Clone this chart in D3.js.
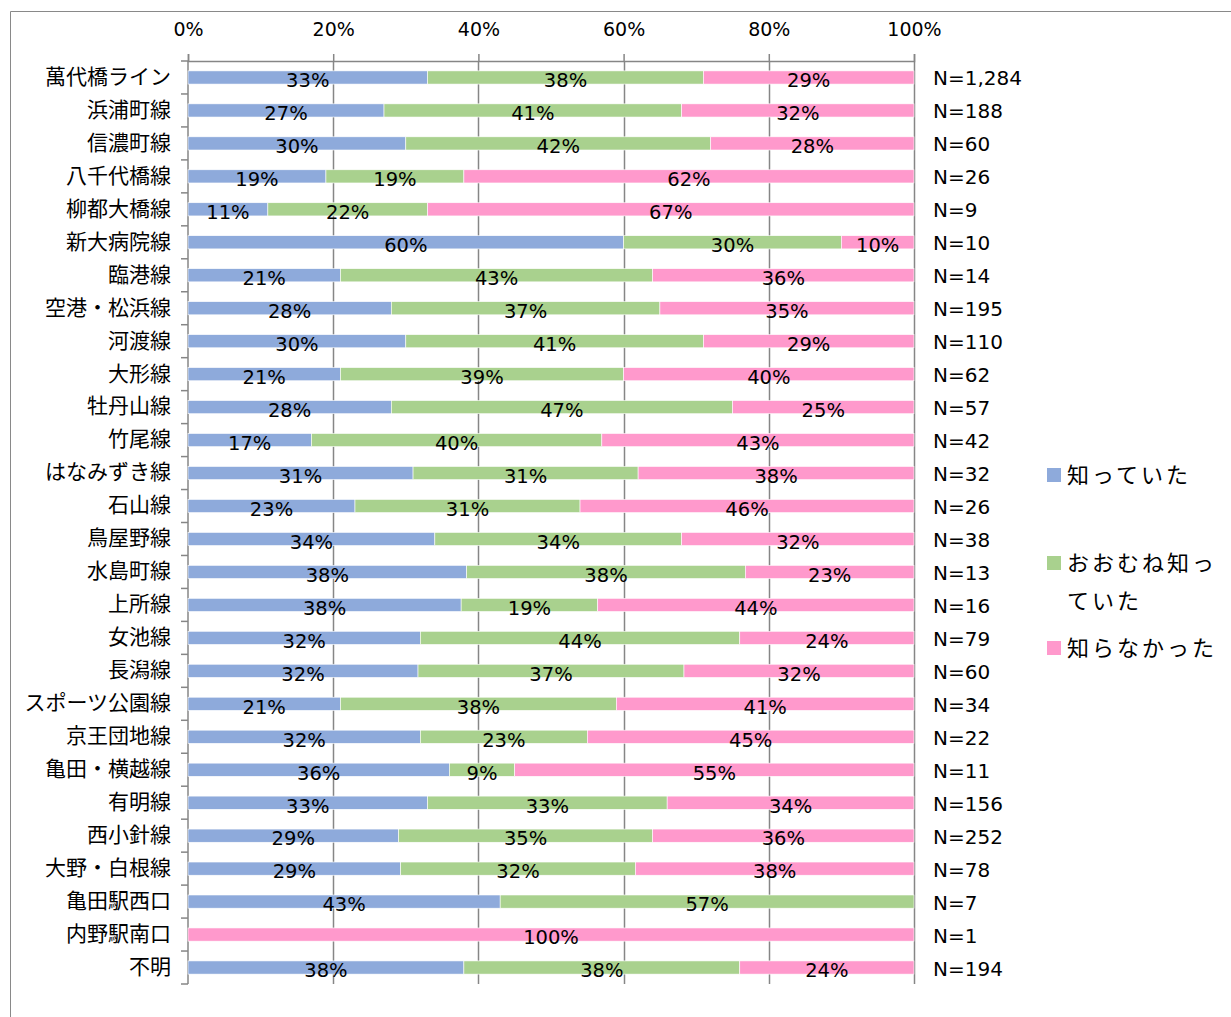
<!DOCTYPE html>
<html>
<head>
<meta charset="utf-8">
<script src="https://cdn.jsdelivr.net/npm/d3@7"></script>
<style>
  body { margin: 0; background: #fff; }
  svg { display: block; font-family: "Noto Sans CJK JP", "Noto Sans", sans-serif; }
  .num { font-family: "DejaVu Sans", "Noto Sans CJK JP", sans-serif; }
</style>
</head>
<body>
<svg id="chart" width="1231" height="1017"></svg>
<script>
// categories (routes), top to bottom
const routes = ['萬代橋ライン', '浜浦町線', '信濃町線', '八千代橋線', '柳都大橋線', '新大病院線', '臨港線',
  '空港・松浜線', '河渡線', '大形線', '牡丹山線', '竹尾線', 'はなみずき線', '石山線', '鳥屋野線', '水島町線',
  '上所線', '女池線', '長潟線', 'スポーツ公園線', '京王団地線', '亀田・横越線', '有明線', '西小針線',
  '大野・白根線', '亀田駅西口', '内野駅南口', '不明'];
const sampleN = ['N=1,284', 'N=188', 'N=60', 'N=26', 'N=9', 'N=10', 'N=14', 'N=195', 'N=110', 'N=62', 'N=57',
  'N=42', 'N=32', 'N=26', 'N=38', 'N=13', 'N=16', 'N=79', 'N=60', 'N=34', 'N=22', 'N=11', 'N=156', 'N=252',
  'N=78', 'N=7', 'N=1', 'N=194'];

// series values (%)
const knew = [33, 27, 30, 19, 11, 60, 21, 28, 30, 21, 28, 17, 31, 23, 34, 38, 38, 32, 32, 21, 32, 36, 33, 29, 29, 43, 0, 38];
const mostlyKnew = [38, 41, 42, 19, 22, 30, 43, 37, 41, 39, 47, 40, 31, 31, 34, 38, 19, 44, 37, 38, 23, 9, 33, 35, 32, 57, 0, 38];
const didntKnow = [29, 32, 28, 62, 67, 10, 36, 35, 29, 40, 25, 43, 38, 46, 32, 23, 44, 24, 32, 41, 45, 55, 34, 36, 38, 0, 100, 24];

const colors = ['#8eaadb', '#a9d18e', '#ff99cc'];
const xTicks = [0, 0.2, 0.4, 0.6, 0.8, 1];

const rows = routes.map((r, i) => ({ route: r, s0: knew[i], s1: mostlyKnew[i], s2: didntKnow[i] }));

const svg = d3.select('#chart');

// outer frame (only top and left edges visible)
svg.append('line').attr('x1', 10.5).attr('x2', 1231).attr('y1', 11.5).attr('y2', 11.5).attr('stroke', '#898989');
svg.append('line').attr('x1', 10.5).attr('x2', 10.5).attr('y1', 11.5).attr('y2', 1017).attr('stroke', '#898989');

const x = d3.scaleLinear().domain([0, 1]).range([188, 914]);
const y = d3.scaleBand().domain(routes).range([61, 984]).paddingInner(0.6).paddingOuter(0.3);
const step = y.step();

// gridlines
svg.append('g').selectAll('line').data(xTicks.slice(1)).join('line')
  .attr('x1', d => Math.round(x(d)) + 0.5).attr('x2', d => Math.round(x(d)) + 0.5)
  .attr('y1', 61).attr('y2', 984)
  .attr('stroke', '#868686').attr('stroke-width', 1.5);

// top axis
const xAxis = svg.append('g').attr('transform', 'translate(0,61)')
  .call(d3.axisTop(x).tickValues(xTicks).tickFormat(d3.format('.0%')).tickSize(7).tickPadding(18));
xAxis.select('.domain').attr('stroke', '#868686').attr('stroke-width', 1.5);
xAxis.selectAll('.tick line').attr('stroke', '#868686').attr('stroke-width', 1.5);
xAxis.selectAll('.tick text').attr('font-size', 19).attr('fill', '#000')
  .attr('font-family', '"DejaVu Sans", sans-serif');

// left axis line with ticks on slot boundaries
svg.append('line').attr('x1', 188).attr('x2', 188).attr('y1', 61).attr('y2', 984)
  .attr('stroke', '#868686').attr('stroke-width', 1.5);
svg.append('g').selectAll('line').data(d3.range(routes.length + 1)).join('line')
  .attr('x1', 181).attr('x2', 188)
  .attr('y1', i => 61 + i * step).attr('y2', i => 61 + i * step)
  .attr('stroke', '#868686').attr('stroke-width', 1.5);

// stacked bars
const stack = d3.stack().keys(['s0', 's1', 's2']).offset(d3.stackOffsetExpand);
const layers = stack(rows);

const layerG = svg.append('g').selectAll('g').data(layers).join('g')
  .attr('fill', (d, i) => colors[i]);

layerG.selectAll('rect').data(d => d).join('rect')
  .attr('x', d => x(d[0]))
  .attr('y', d => y(d.data.route))
  .attr('width', d => Math.max(0, x(d[1]) - x(d[0])))
  .attr('height', y.bandwidth())
  .attr('stroke', '#fff').attr('stroke-width', 0.6);

// data labels
layers.forEach(layer => {
  svg.append('g').selectAll('text').data(layer.filter(d => d.data[layer.key] > 0)).join('text')
    .attr('class', 'num')
    .attr('x', d => x((d[0] + d[1]) / 2))
    .attr('y', d => y(d.data.route) + y.bandwidth() / 2 + 3)
    .attr('dy', '0.35em')
    .attr('text-anchor', 'middle')
    .attr('font-size', 19.5)
    .attr('fill', '#000')
    .text(d => d.data[layer.key] + '%');
});

// category labels
svg.append('g').selectAll('text').data(routes).join('text')
  .attr('x', 171)
  .attr('y', d => y(d) + y.bandwidth() / 2 - 1)
  .attr('dy', '0.35em')
  .attr('text-anchor', 'end')
  .attr('font-size', 21)
  .attr('fill', '#000')
  .text(d => d);

// N labels
svg.append('g').selectAll('text').data(sampleN).join('text')
  .attr('class', 'num')
  .attr('x', 933)
  .attr('y', (d, i) => y(routes[i]) + y.bandwidth() / 2 + 1)
  .attr('dy', '0.35em')
  .attr('font-size', 20)
  .attr('fill', '#000')
  .text(d => d);

// legend
const legendItems = [
  { lines: ['知っていた'], y: 475 },
  { lines: ['おおむね知っ', 'ていた'], y: 563 },
  { lines: ['知らなかった'], y: 648 }
];
const lg = svg.append('g').selectAll('g').data(legendItems).join('g');
lg.append('rect')
  .attr('x', 1047).attr('y', d => d.y - 7).attr('width', 14).attr('height', 14)
  .attr('fill', (d, i) => colors[i]);
lg.each(function (d) {
  d3.select(this).selectAll('text').data(d.lines).join('text')
    .attr('x', 1067)
    .attr('y', (t, j) => d.y + j * 38)
    .attr('dy', '0.35em')
    .attr('font-size', 22)
    .attr('letter-spacing', 3)
    .attr('fill', '#000')
    .text(t => t);
});
</script>
</body>
</html>
